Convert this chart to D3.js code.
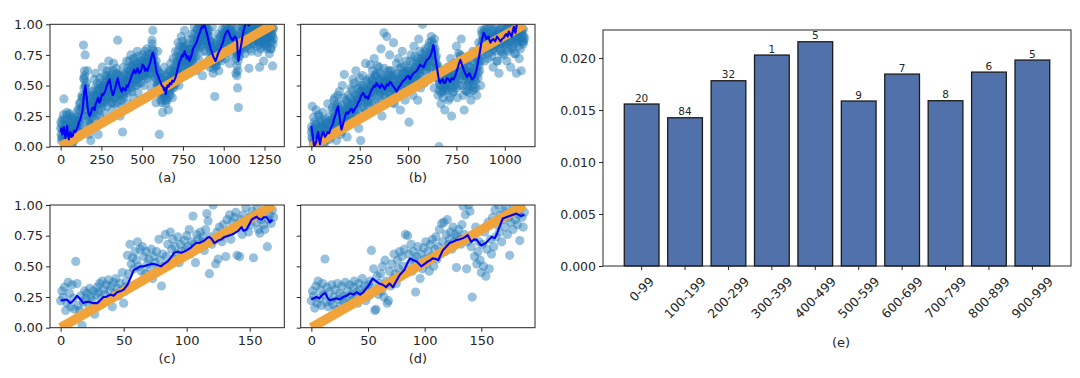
<!DOCTYPE html>
<html><head><meta charset="utf-8">
<script src="https://cdn.jsdelivr.net/npm/d3@7"></script>
<style>
body{margin:0;background:#fff}
text{font-family:"DejaVu Sans",sans-serif;fill:#262626}
</style>
</head><body>
<svg id="chart" width="1080" height="378"></svg>
<script>
// ---------------- DATA ----------------
// Panel (a): scatter values sampled every 5 steps, three passes offset by 0, 2.5 and 1.25 steps
const aStep = 5;
const aValues = [
0.15,0.05,0.22,0.10,0.39,0.02,0.18,0.08,0.26,0.12,0.04,0.20,0.14,0.25,0.00,0.09,0.17,0.06,0.22,0.12,
0.18,0.30,0.08,0.35,0.22,0.12,0.40,0.26,0.83,0.55,0.75,0.48,0.30,0.62,0.20,0.10,0.38,0.05,0.28,0.45,
0.30,0.55,0.22,0.60,0.42,0.35,0.10,0.48,0.26,0.52,0.38,0.65,0.45,0.28,0.50,0.40,0.58,0.33,0.47,0.70,
0.62,0.40,0.55,0.30,0.48,0.68,0.35,0.52,0.44,0.60,0.87,0.42,0.58,0.25,0.50,0.38,0.12,0.65,0.45,0.55,
0.48,0.70,0.52,0.35,0.62,0.58,0.75,0.45,0.66,0.40,0.55,0.72,0.60,0.50,0.78,0.44,0.64,0.57,0.68,0.52,
0.60,0.75,0.50,0.68,0.72,0.40,0.80,0.62,0.55,0.70,0.65,0.48,0.87,0.95,0.74,0.58,0.66,0.36,0.52,0.78,
0.45,0.10,0.60,0.38,0.55,0.28,0.48,0.65,0.42,0.35,0.58,0.50,0.30,0.62,0.46,0.68,0.54,0.40,0.72,0.56,
0.62,0.78,0.55,0.70,0.85,0.50,0.74,0.66,0.90,0.60,0.82,0.72,0.95,0.58,0.76,0.68,0.88,0.64,0.80,0.70,
0.75,0.92,0.68,0.85,0.98,0.80,0.62,0.90,0.96,0.72,0.88,1.00,0.82,0.94,0.58,0.86,0.99,0.78,0.92,0.84,
0.88,0.70,0.95,0.65,0.82,0.76,0.98,0.60,0.72,0.41,0.85,0.66,0.78,0.92,0.62,0.80,0.90,0.70,0.96,0.74,
0.85,0.95,0.72,0.90,1.00,0.80,0.92,0.68,0.98,0.86,0.75,0.94,0.88,0.82,0.96,0.60,0.58,0.48,0.32,0.78,
0.90,0.98,0.80,0.95,1.00,0.86,0.76,0.94,0.99,0.82,0.92,0.64,0.97,0.88,0.78,1.00,0.90,0.84,0.96,0.92,
0.95,0.88,0.77,0.99,0.65,0.92,0.86,1.00,0.90,0.70,0.96,0.84,0.98,0.80,0.94,0.88,0.76,1.00,0.92,0.86,0.66,0.97
];
const aValues2 = [
0.10,0.18,0.06,0.14,0.22,0.08,0.12,0.28,0.04,0.16,0.10,0.20,0.07,0.15,0.24,0.11,0.05,0.18,0.13,0.20,
0.15,0.22,0.12,0.28,0.18,0.32,0.25,0.40,0.48,0.58,0.42,0.52,0.35,0.30,0.22,0.34,0.26,0.18,0.32,0.40,
0.36,0.28,0.42,0.33,0.46,0.38,0.30,0.44,0.40,0.35,0.48,0.42,0.36,0.50,0.44,0.38,0.55,0.48,0.42,0.52,
0.55,0.48,0.42,0.36,0.50,0.45,0.40,0.54,0.60,0.52,0.47,0.42,0.50,0.38,0.46,0.52,0.44,0.40,0.48,0.54,
0.52,0.46,0.58,0.50,0.55,0.62,0.48,0.60,0.56,0.66,0.58,0.64,0.54,0.68,0.60,0.56,0.62,0.66,0.58,0.64,
0.66,0.60,0.70,0.62,0.58,0.68,0.64,0.72,0.60,0.66,0.70,0.76,0.80,0.72,0.68,0.62,0.56,0.64,0.58,0.52,
0.56,0.50,0.46,0.52,0.44,0.40,0.48,0.42,0.46,0.50,0.38,0.54,0.48,0.44,0.56,0.50,0.58,0.52,0.48,0.60,
0.58,0.62,0.66,0.56,0.70,0.64,0.72,0.68,0.76,0.70,0.80,0.74,0.72,0.82,0.76,0.70,0.66,0.74,0.68,0.72,
0.74,0.80,0.72,0.84,0.78,0.86,0.82,0.88,0.84,0.92,0.86,0.94,0.90,0.96,0.92,0.98,0.94,1.00,0.96,0.92,
0.90,0.84,0.86,0.80,0.78,0.82,0.74,0.70,0.76,0.68,0.72,0.78,0.74,0.80,0.76,0.82,0.78,0.86,0.80,0.84,
0.88,0.92,0.86,0.94,0.90,0.96,0.88,0.92,0.84,0.90,0.86,0.92,0.88,0.84,0.90,0.82,0.76,0.70,0.74,0.80,
0.84,0.88,0.92,0.86,0.94,0.90,0.96,0.92,0.98,0.94,0.88,0.96,0.90,0.99,0.94,0.86,0.97,0.92,0.88,0.95,
0.93,0.86,0.97,0.90,0.84,0.95,0.88,0.99,0.92,0.82,0.96,0.90,0.86,0.98,0.92,0.88,0.94,0.80,0.97,0.90,0.84
];
const aValues3 = [
0.20,0.08,0.14,0.26,0.03,0.12,0.18,0.09,0.22,0.15,0.06,0.27,0.11,0.19,0.02,0.16,0.23,0.10,0.07,0.17,
0.24,0.12,0.30,0.20,0.36,0.15,0.42,0.33,0.56,0.62,0.50,0.38,0.44,0.25,0.36,0.18,0.30,0.42,0.24,0.35,
0.42,0.30,0.48,0.38,0.25,0.52,0.34,0.46,0.56,0.40,0.32,0.50,0.44,0.58,0.36,0.52,0.46,0.62,0.40,0.56,
0.46,0.58,0.36,0.52,0.62,0.40,0.56,0.48,0.64,0.36,0.50,0.58,0.44,0.54,0.32,0.48,0.58,0.42,0.52,0.60,
0.58,0.44,0.64,0.54,0.70,0.48,0.60,0.66,0.52,0.72,0.62,0.50,0.68,0.56,0.64,0.74,0.52,0.60,0.70,0.58,
0.70,0.58,0.66,0.78,0.62,0.74,0.56,0.68,0.76,0.64,0.60,0.72,0.84,0.70,0.78,0.66,0.60,0.70,0.50,0.62,
0.52,0.60,0.42,0.56,0.36,0.50,0.44,0.58,0.38,0.54,0.46,0.40,0.60,0.52,0.42,0.62,0.48,0.56,0.64,0.50,
0.66,0.52,0.74,0.62,0.78,0.58,0.82,0.70,0.64,0.86,0.74,0.66,0.80,0.70,0.84,0.62,0.78,0.72,0.60,0.76,
0.80,0.70,0.88,0.76,0.92,0.82,0.74,0.96,0.86,0.80,0.98,0.90,0.84,1.00,0.88,0.78,0.96,0.92,0.86,0.98,
0.94,0.82,0.90,0.72,0.86,0.68,0.80,0.64,0.84,0.74,0.66,0.82,0.70,0.88,0.76,0.72,0.86,0.80,0.92,0.78,
0.92,0.82,0.98,0.88,0.78,0.94,0.84,0.96,0.90,0.80,0.98,0.86,0.92,0.78,0.88,0.72,0.66,0.62,0.84,0.74,
0.86,0.94,0.82,0.98,0.90,0.80,0.96,0.88,0.84,0.98,0.92,0.86,0.80,0.94,0.90,0.98,0.84,0.92,0.96,0.88,
0.90,0.82,0.96,0.88,0.94,0.80,0.98,0.86,0.92,0.84,0.90,0.96,0.88,0.82,0.94,0.90,0.98,0.86,0.80,0.92,0.96,0.88
];
// Panel (a): moving-average trace [x, value]
const aTrend = [
[0,0.12],[5,0.15],[10,0.10],[15,0.13],[20,0.16],[25,0.11],[30,0.07],[35,0.12],[40,0.17],[45,0.10],[50,0.06],[55,0.09],[60,0.12],[68,0.08],[75,0.09],[82,0.13],[90,0.12],[97,0.14],[105,0.16],[112,0.20],
[120,0.22],[128,0.26],[135,0.30],[140,0.38],[145,0.45],[152,0.50],[156,0.44],[160,0.40],[165,0.33],[170,0.28],[178,0.25],[185,0.27],[192,0.31],[200,0.32],[208,0.30],[215,0.35],[222,0.37],[230,0.40],
[238,0.36],[245,0.38],[252,0.43],[260,0.42],[268,0.44],[275,0.46],[283,0.50],[290,0.52],[300,0.55],[305,0.51],[310,0.47],[320,0.42],[328,0.45],[335,0.48],[342,0.52],[350,0.56],[355,0.53],[360,0.50],
[368,0.47],[375,0.45],[382,0.48],[390,0.47],[398,0.46],[405,0.50],[412,0.49],[420,0.52],[428,0.55],[435,0.58],[442,0.60],[450,0.63],[458,0.60],[465,0.62],[472,0.64],[480,0.60],[488,0.61],[495,0.63],[502,0.67],[510,0.66],
[518,0.62],[525,0.64],[532,0.62],[540,0.65],[548,0.68],[555,0.72],[565,0.77],[570,0.75],[575,0.72],[582,0.66],[590,0.60],[598,0.58],[605,0.55],[612,0.53],[620,0.50],[628,0.49],[635,0.46],[640,0.48],[645,0.43],
[650,0.47],[655,0.50],[662,0.49],[670,0.52],[678,0.51],[685,0.54],[692,0.53],[700,0.55],[708,0.58],[715,0.62],[722,0.66],[730,0.70],[738,0.72],[745,0.75],[752,0.74],[760,0.78],[768,0.75],[775,0.72],[782,0.74],[790,0.70],
[798,0.73],[805,0.76],[812,0.80],[820,0.82],[828,0.84],[835,0.86],[842,0.89],[850,0.92],[858,0.95],[865,0.98],[872,0.97],[880,1.00],[885,0.98],[890,0.96],[898,0.92],[905,0.88],[912,0.84],[920,0.80],[928,0.77],[935,0.74],
[942,0.72],[950,0.70],[958,0.73],[965,0.76],[972,0.78],[980,0.80],[988,0.83],[995,0.85],[1002,0.89],[1010,0.92],[1018,0.94],[1025,0.95],[1032,0.93],[1040,0.90],[1048,0.88],[1055,0.87],[1062,0.89],[1070,0.90],[1077,0.88],[1082,0.86],
[1086,0.76],[1090,0.70],[1095,0.74],[1100,0.78],[1108,0.84],[1115,0.90],[1122,0.95],[1130,0.99],[1138,1.01],[1145,1.02],[1152,0.99],[1160,1.00],[1168,1.03],[1175,1.04],[1182,1.03],[1190,1.05],[1200,1.07],[1210,1.06],[1220,1.04],[1230,1.05],
[1240,1.08],[1250,1.07],[1260,1.05],[1270,1.06],[1280,1.09],[1290,1.08],[1305,1.07]
];
// Panel (b)
const bStep = 5;
const bValues = [
0.12,0.33,0.02,0.20,0.08,0.30,0.15,0.00,0.25,0.10,0.05,0.18,0.28,0.03,0.14,0.22,0.08,0.35,0.12,0.06,
0.20,0.10,0.32,0.15,0.40,0.25,0.05,0.35,0.18,0.45,0.28,0.12,0.50,0.22,0.59,0.30,0.38,0.08,0.42,0.26,
0.35,0.48,0.20,0.55,0.30,0.42,0.62,0.25,0.38,0.15,0.50,0.05,0.45,0.58,0.32,0.40,0.68,0.28,0.52,0.36,
0.48,0.67,0.35,0.55,0.42,0.72,0.30,0.60,0.50,0.38,0.65,0.45,0.80,0.25,0.58,0.93,0.52,0.40,0.90,0.62,
0.55,0.75,0.40,0.62,0.48,0.85,0.35,0.58,0.68,0.44,0.72,0.52,0.30,0.65,0.78,0.46,0.60,0.38,0.70,0.55,
0.62,0.20,0.50,0.75,0.58,0.42,0.82,0.65,0.55,0.70,0.38,0.88,0.60,0.48,0.72,1.00,0.66,0.52,0.78,0.62,
0.70,0.55,0.85,0.65,0.90,0.60,0.75,0.48,0.80,0.68,0.58,0.42,0.00,0.50,0.35,0.62,0.45,0.55,0.30,0.52,
0.48,0.65,0.38,0.58,0.72,0.25,0.55,0.45,0.68,0.52,0.82,0.40,0.60,0.50,0.75,0.88,0.55,0.42,0.30,0.62,
0.58,0.45,0.70,0.52,0.65,0.38,0.60,0.78,0.48,0.55,0.68,0.42,0.72,0.85,0.62,0.50,0.95,0.75,0.88,0.70,
0.92,0.80,0.98,0.72,0.88,0.85,1.00,0.78,0.65,0.90,0.82,0.95,0.70,0.86,0.60,0.92,0.78,0.88,0.98,0.75,
0.85,0.92,0.70,0.98,0.80,0.88,0.65,0.95,0.82,1.00,0.76,0.90,0.60,0.86,0.94,0.72,0.88,0.62,0.96,0.84,0.90
];
const bValues2 = [
0.08,0.14,0.04,0.10,0.18,0.02,0.12,0.06,0.15,0.09,0.20,0.05,0.11,0.16,0.07,0.13,0.19,0.10,0.14,0.08,
0.16,0.22,0.12,0.28,0.20,0.34,0.26,0.18,0.14,0.22,0.30,0.18,0.26,0.20,0.32,0.24,0.28,0.22,0.34,0.30,
0.32,0.26,0.36,0.30,0.38,0.28,0.34,0.40,0.36,0.44,0.38,0.46,0.42,0.48,0.40,0.36,0.44,0.38,0.42,0.46,
0.44,0.50,0.46,0.54,0.48,0.52,0.58,0.50,0.46,0.54,0.48,0.44,0.52,0.56,0.50,0.46,0.54,0.48,0.52,0.58,
0.52,0.56,0.48,0.54,0.46,0.50,0.44,0.48,0.42,0.52,0.56,0.50,0.54,0.58,0.52,0.56,0.60,0.54,0.58,0.62,
0.56,0.60,0.54,0.58,0.62,0.56,0.60,0.64,0.58,0.66,0.62,0.68,0.64,0.70,0.66,0.72,0.68,0.74,0.70,0.66,
0.72,0.76,0.70,0.78,0.74,0.80,0.84,0.78,0.72,0.66,0.62,0.56,0.52,0.58,0.50,0.54,0.48,0.56,0.52,0.50,
0.54,0.58,0.50,0.56,0.52,0.48,0.58,0.54,0.60,0.56,0.64,0.58,0.66,0.70,0.74,0.68,0.72,0.64,0.60,0.58,
0.56,0.60,0.52,0.58,0.54,0.62,0.50,0.56,0.60,0.54,0.62,0.66,0.60,0.70,0.76,0.82,0.86,0.90,0.94,0.88,
0.86,0.90,0.84,0.92,0.88,0.82,0.90,0.86,0.94,0.88,0.84,0.92,0.86,0.90,0.96,0.88,0.84,0.92,0.86,0.90,
0.92,0.88,0.96,0.90,0.94,0.86,0.98,0.92,0.88,0.96,0.94,0.90,0.98,0.86,0.92,0.96,0.88,0.94,0.90,0.86
];
const bValues3 = [
0.16,0.06,0.24,0.12,0.02,0.18,0.10,0.26,0.04,0.14,0.22,0.08,0.17,0.01,0.12,0.20,0.06,0.15,0.24,0.10,
0.22,0.30,0.14,0.38,0.24,0.16,0.32,0.42,0.20,0.28,0.10,0.34,0.24,0.40,0.16,0.30,0.22,0.36,0.26,0.18,
0.40,0.28,0.46,0.34,0.52,0.22,0.42,0.36,0.48,0.30,0.56,0.40,0.32,0.50,0.44,0.26,0.46,0.54,0.34,0.42,
0.56,0.40,0.50,0.62,0.44,0.36,0.58,0.48,0.66,0.42,0.54,0.60,0.38,0.52,0.46,0.64,0.42,0.56,0.50,0.44,
0.48,0.62,0.42,0.58,0.36,0.56,0.50,0.40,0.60,0.46,0.54,0.64,0.44,0.48,0.60,0.52,0.66,0.46,0.56,0.50,
0.64,0.52,0.70,0.60,0.50,0.68,0.56,0.74,0.62,0.54,0.72,0.60,0.78,0.58,0.66,0.76,0.62,0.70,0.80,0.64,
0.68,0.82,0.74,0.66,0.86,0.76,0.70,0.88,0.64,0.74,0.56,0.66,0.46,0.62,0.44,0.58,0.40,0.60,0.46,0.56,
0.62,0.46,0.60,0.40,0.66,0.56,0.44,0.62,0.50,0.68,0.48,0.60,0.76,0.56,0.64,0.70,0.50,0.58,0.66,0.46,
0.62,0.50,0.66,0.44,0.60,0.56,0.70,0.46,0.64,0.58,0.48,0.72,0.56,0.66,0.80,0.70,0.92,0.84,0.78,0.96,
0.80,0.94,0.76,0.86,0.98,0.82,0.74,0.92,0.80,0.96,0.78,0.88,0.70,0.94,0.84,0.80,0.98,0.76,0.92,0.82,
0.96,0.84,0.90,0.78,1.00,0.86,0.92,0.80,0.98,0.84,0.90,0.76,0.94,0.88,0.82,0.98,0.80,0.92,0.86,0.96,0.88
];
const bTrend = [
[0,0.17],[4,0.12],[8,0.08],[12,0.03],[15,0.00],[20,0.02],[25,0.04],[30,0.09],[35,0.12],[40,0.06],[45,0.02],[50,0.07],[55,0.10],[62,0.12],[70,0.08],[78,0.10],[85,0.12],[92,0.11],[100,0.15],[106,0.17],
[112,0.19],[118,0.23],[125,0.26],[131,0.30],[138,0.33],[143,0.28],[148,0.22],[152,0.17],[156,0.14],[163,0.18],[170,0.22],[176,0.26],[182,0.28],[190,0.27],[200,0.30],[208,0.31],[215,0.28],[225,0.31],[234,0.33],[242,0.36],
[250,0.38],[258,0.42],[268,0.44],[274,0.42],[280,0.40],[287,0.41],[294,0.39],[302,0.43],[310,0.46],[318,0.48],[325,0.50],[331,0.49],[337,0.52],[345,0.50],[355,0.48],[363,0.51],[372,0.49],[380,0.47],[390,0.51],[398,0.50],
[406,0.53],[413,0.52],[420,0.50],[430,0.48],[441,0.45],[450,0.48],[460,0.50],[467,0.52],[475,0.54],[484,0.55],[493,0.57],[502,0.58],[510,0.55],[519,0.58],[528,0.60],[536,0.61],[545,0.62],[553,0.64],[562,0.67],[570,0.66],
[580,0.65],[588,0.68],[597,0.71],[606,0.72],[615,0.74],[623,0.78],[631,0.83],[636,0.79],[640,0.74],[645,0.69],[649,0.65],[654,0.60],[658,0.56],[662,0.53],[666,0.52],[672,0.54],[680,0.55],[685,0.52],[690,0.52],[696,0.54],
[701,0.56],[710,0.55],[718,0.53],[726,0.56],[735,0.55],[744,0.58],[752,0.62],[760,0.66],[770,0.71],[777,0.68],[785,0.64],[795,0.60],[805,0.57],[812,0.59],[818,0.60],[825,0.57],[831,0.55],[838,0.56],[845,0.58],[851,0.61],
[857,0.65],[865,0.72],[872,0.78],[878,0.84],[883,0.88],[891,0.93],[898,0.91],[905,0.88],[910,0.89],[916,0.90],[921,0.87],[926,0.85],[933,0.87],[940,0.88],[950,0.86],[960,0.90],[969,0.88],[978,0.86],[986,0.88],[995,0.89],
[1002,0.91],[1008,0.92],[1015,0.90],[1021,0.94],[1028,0.92],[1035,0.90],[1041,0.94],[1047,0.98],[1051,0.95],[1055,0.93],[1059,0.97],[1062,1.00]
];
// Panel (c): one value per step (x = 0..169)
const cValues = [
0.22,0.30,0.25,0.33,0.14,0.20,0.37,0.28,0.17,0.35,
0.24,0.15,0.54,0.36,0.18,0.14,0.26,0.02,0.21,0.30,
0.24,0.28,0.19,0.32,0.25,0.22,0.30,0.11,0.27,0.33,
0.29,0.36,0.24,0.38,0.31,0.27,0.35,0.22,0.39,0.30,
0.34,0.17,0.37,0.28,0.40,0.32,0.26,0.36,0.30,0.45,
0.20,0.33,0.38,0.59,0.44,0.68,0.52,0.57,0.48,0.62,
0.55,0.70,0.50,0.64,0.46,0.66,0.58,0.44,0.62,0.52,
0.56,0.48,0.64,0.40,0.58,0.53,0.62,0.47,0.72,0.55,
0.34,0.60,0.50,0.76,0.58,0.68,0.52,0.78,0.64,0.72,
0.56,0.66,0.60,0.74,0.53,0.68,0.62,0.58,0.71,0.64,
0.75,0.66,0.80,0.60,0.70,0.91,0.68,0.53,0.76,0.72,
0.65,0.78,0.70,0.74,0.63,0.80,0.93,0.87,0.44,0.74,
0.68,1.00,0.72,0.52,0.78,0.56,0.82,0.74,0.70,0.84,
0.76,0.58,0.88,0.79,0.92,0.72,0.86,0.80,0.90,0.94,
0.59,0.84,0.58,0.88,0.76,0.92,0.82,0.98,0.86,0.78,
0.90,0.84,0.95,0.57,0.92,0.86,0.98,0.80,0.77,0.88,
0.93,0.84,0.80,0.96,0.66,0.88,0.92,0.85,0.96,0.90
];
const cTrend = [
[0,0.22],[2,0.225],[5,0.23],[7.5,0.20],[10,0.22],[13,0.26],[15,0.24],[18,0.20],[20,0.21],[23,0.21],[26,0.20],[29,0.20],[31,0.22],[34,0.25],[36,0.25],[39.5,0.27],[42,0.26],
[45,0.29],[48,0.30],[50,0.31],[53,0.35],[56,0.42],[58,0.47],[60,0.48],[63,0.50],[66,0.50],[69,0.51],[72,0.52],[74,0.52],[77,0.51],[79.5,0.50],[82,0.52],[85,0.54],[88,0.58],
[90,0.61],[93,0.62],[95.5,0.61],[98,0.62],[100,0.63],[103,0.65],[105,0.67],[107.5,0.69],[110,0.69],[114,0.71],[116,0.73],[118,0.74],[120,0.72],[122,0.69],[125,0.71],[127.5,0.72],[130,0.74],[133,0.75],
[136,0.76],[138,0.77],[141,0.79],[143.5,0.82],[145,0.79],[147.5,0.80],[150,0.85],[151.5,0.88],[153,0.89],[155.5,0.905],[157,0.89],[159.5,0.88],[161,0.90],[163.5,0.90],[166,0.86],[168,0.88]
];
// Panel (d): one value per step (x = 0..188)
const dValues = [
0.22,0.30,0.26,0.16,0.34,0.20,0.38,0.24,0.31,0.18,
0.36,0.27,0.56,0.21,0.33,0.17,0.29,0.22,0.35,0.19,
0.25,0.31,0.15,0.36,0.23,0.28,0.18,0.34,0.26,0.21,
0.37,0.24,0.30,0.19,0.35,0.27,0.22,0.33,0.38,0.25,
0.29,0.20,0.36,0.31,0.24,0.40,0.28,0.34,0.22,0.30,
0.35,0.26,0.38,0.63,0.32,0.48,0.14,0.15,0.42,0.27,
0.36,0.44,0.30,0.50,0.25,0.55,0.38,0.20,0.22,0.46,
0.34,0.52,0.40,0.60,0.44,0.36,0.55,0.48,0.62,0.42,
0.58,0.50,0.64,0.76,0.45,0.75,0.60,0.52,0.68,0.46,
0.62,0.55,0.29,0.58,0.66,0.50,0.40,0.60,0.48,0.65,
0.56,0.70,0.52,0.62,0.46,0.68,0.58,0.72,0.50,0.64,
0.74,0.56,0.66,0.80,0.60,0.85,0.70,0.86,0.62,0.76,
0.88,0.68,0.72,0.78,0.64,0.82,0.70,0.76,0.49,0.74,
0.80,0.72,0.68,0.84,0.99,0.76,0.92,0.48,0.70,1.00,
0.95,0.66,0.25,0.74,0.58,0.82,0.52,0.62,0.70,0.55,
0.45,0.68,0.50,0.78,0.42,0.64,0.86,0.48,0.72,0.60,
0.90,0.66,0.96,0.74,0.84,1.00,0.78,0.92,0.70,0.88,
0.95,0.82,0.98,0.76,0.90,0.59,0.86,0.94,0.80,0.99,
0.88,0.96,0.84,0.92,0.71,0.98,0.90,0.82,0.94
];
const dTrend = [
[0,0.23],[2,0.24],[4.4,0.25],[7,0.24],[10,0.27],[12,0.285],[14,0.25],[16,0.225],[19,0.23],[22,0.24],[25,0.23],[28,0.25],[31,0.26],[34,0.28],[37,0.27],[40,0.29],[43,0.27],[46,0.29],
[48.5,0.32],[51,0.35],[54,0.40],[57,0.38],[60,0.36],[63,0.35],[66,0.33],[69,0.36],[72,0.33],[75,0.38],[78,0.43],[80,0.45],[82,0.47],[85,0.53],[87,0.565],[90,0.55],[93,0.54],
[95,0.52],[97,0.50],[100,0.52],[103,0.54],[105,0.55],[107,0.565],[110,0.56],[112,0.55],[114,0.59],[116,0.63],[119,0.66],[122,0.69],[125,0.70],[128,0.715],[131,0.72],[134,0.73],[136,0.74],[138,0.755],[141,0.70],
[144,0.72],[146,0.715],[148,0.69],[150,0.67],[152,0.68],[154,0.69],[157,0.72],[159,0.74],[162,0.73],[164,0.77],[166,0.82],[169,0.89],[172,0.90],[175,0.91],[178,0.92],[181,0.93],[183,0.92],[185,0.91],[188,0.92]
];
// Tick values
const aTicks = [0,250,500,750,1000,1250];
const bTicks = [0,250,500,750,1000];
const cTicks = [0,50,100,150];
const dTicks = [0,50,100,150];
const yTicksSmall = [0,0.25,0.5,0.75,1.0];

// Panel (e): bar chart
const ranges = ["0-99","100-199","200-299","300-399","400-499","500-599","600-699","700-799","800-899","900-999"];
const barValues = [0.01558,0.01426,0.01782,0.02029,0.02157,0.01587,0.01846,0.01590,0.01865,0.01981];
const barCounts = [20,84,32,1,5,9,7,8,6,5];
const barYTicks = [0,0.005,0.010,0.015,0.020];

// ---------------- DRAWING ----------------
const svg = d3.select("#chart");
const FS = 13;

function seq(values, step, offset){ return values.map((v,i)=>[offset + i*step, v]); }

function panel(id, box, pts, trend, xTicks, showY, label){
  const g = svg.append("g");
  const xmax = d3.max(pts, d=>d[0]);
  const pad = 0.05*xmax;
  const x = d3.scaleLinear().domain([-pad, xmax+pad]).range([box.l, box.r]);
  const y = d3.scaleLinear().domain([0,1]).range([box.b, box.t]);
  const cid = "clip-"+id;
  svg.append("clipPath").attr("id", cid).append("rect")
    .attr("x", box.l).attr("y", box.t).attr("width", box.r-box.l).attr("height", box.b-box.t);
  const inner = g.append("g").attr("clip-path", `url(#${cid})`);
  inner.selectAll("circle").data(pts).join("circle")
    .attr("cx", d=>x(d[0])).attr("cy", d=>y(d[1])).attr("r", 4.6)
    .attr("fill", "#1f77b4").attr("fill-opacity", 0.46);
  inner.append("line")
    .attr("x1", x(0)).attr("y1", y(0)).attr("x2", x(xmax)).attr("y2", y(1))
    .attr("stroke", "#f0a33a").attr("stroke-width", 9.5);
  inner.append("path").datum(trend)
    .attr("d", d3.line().x(d=>x(d[0])).y(d=>y(d[1])))
    .attr("fill","none").attr("stroke","#0000ff").attr("stroke-width",2.1).attr("stroke-linejoin","round");
  const xa = g.append("g").attr("transform", `translate(0,${box.b})`)
    .call(d3.axisBottom(x).tickValues(xTicks).tickSize(4).tickPadding(4).tickFormat(d3.format("d")));
  const ya = g.append("g").attr("transform", `translate(${box.l},0)`)
    .call(d3.axisLeft(y).tickValues(yTicksSmall).tickSize(4).tickPadding(3)
      .tickFormat(showY ? d3.format(".2f") : ""));
  [xa, ya].forEach(a=>{
    a.select(".domain").remove();
    a.selectAll("line").attr("stroke","#262626");
    a.selectAll("text").attr("font-size", FS).attr("font-family","DejaVu Sans").attr("fill","#262626");
  });
  g.append("rect").attr("x", box.l).attr("y", box.t).attr("width", box.r-box.l).attr("height", box.b-box.t)
    .attr("fill","none").attr("stroke","#262626").attr("stroke-width",1);
  g.append("text").attr("x", (box.l+box.r)/2).attr("y", box.b+35).attr("text-anchor","middle")
    .attr("font-size", FS).text(label);
}

panel("a", {l:50, r:284.3, t:24.3, b:146.7},
  seq(aValues, aStep, 0).concat(seq(aValues2, aStep, aStep/2), seq(aValues3, aStep, aStep/4)),
  aTrend, aTicks, true, "(a)");
panel("b", {l:300.7, r:535, t:24.3, b:146.7},
  seq(bValues, bStep, 0).concat(seq(bValues2, bStep, bStep/2), seq(bValues3, bStep, bStep/4)),
  bTrend, bTicks, false, "(b)");
panel("c", {l:50, r:284.3, t:205, b:327.7}, seq(cValues, 1, 0), cTrend, cTicks, true, "(c)");
panel("d", {l:300.7, r:535, t:205, b:327.7}, seq(dValues, 1, 0), dTrend, dTicks, false, "(d)");

// Bar chart
(function(){
  const box = {l:603, r:1071, t:30, b:266};
  const g = svg.append("g");
  const x = d3.scaleBand().domain(ranges).range([box.l, box.r]).paddingInner(0.2).paddingOuter(0.49);
  const y = d3.scaleLinear().domain([0, 0.0227]).range([box.b, box.t]);
  const data = ranges.map((r,i)=>({r, v:barValues[i], c:barCounts[i]}));
  g.selectAll("rect.bar").data(data).join("rect").attr("class","bar")
    .attr("x", d=>x(d.r)).attr("y", d=>y(d.v)).attr("width", x.bandwidth()).attr("height", d=>y(0)-y(d.v))
    .attr("fill","#5171ab").attr("stroke","#1c1c1c").attr("stroke-width",1.3);
  g.selectAll("text.cnt").data(data).join("text").attr("class","cnt")
    .attr("x", d=>x(d.r)+x.bandwidth()/2).attr("y", d=>y(d.v)-2.5)
    .attr("text-anchor","middle").attr("font-size",10.5).text(d=>d.c);
  const ya = g.append("g").attr("transform", `translate(${box.l},0)`)
    .call(d3.axisLeft(y).tickValues(barYTicks).tickSize(4).tickPadding(3).tickFormat(d3.format(".3f")));
  const xa = g.append("g").attr("transform", `translate(0,${box.b})`)
    .call(d3.axisBottom(x).tickSize(4).tickPadding(4));
  [xa, ya].forEach(a=>{
    a.select(".domain").remove();
    a.selectAll("line").attr("stroke","#262626");
    a.selectAll("text").attr("font-size", 12.5).attr("font-family","DejaVu Sans").attr("fill","#262626");
  });
  xa.selectAll(".tick text").each(function(){
    const t = d3.select(this);
    const w = this.getComputedTextLength();
    const h = 12.5*1.17;
    const off = 8 + (w+h)*0.7071/2;
    t.attr("y", 0).attr("dy","0.35em").attr("text-anchor","middle")
     .attr("transform", `translate(0,${off}) rotate(-45)`);
  });
  g.append("rect").attr("x", box.l).attr("y", box.t).attr("width", box.r-box.l).attr("height", box.b-box.t)
    .attr("fill","none").attr("stroke","#262626").attr("stroke-width",1);
  g.append("text").attr("x", (box.l+box.r)/2+4).attr("y", 347).attr("text-anchor","middle")
    .attr("font-size", 13).text("(e)");
})();
</script>
</body></html>
